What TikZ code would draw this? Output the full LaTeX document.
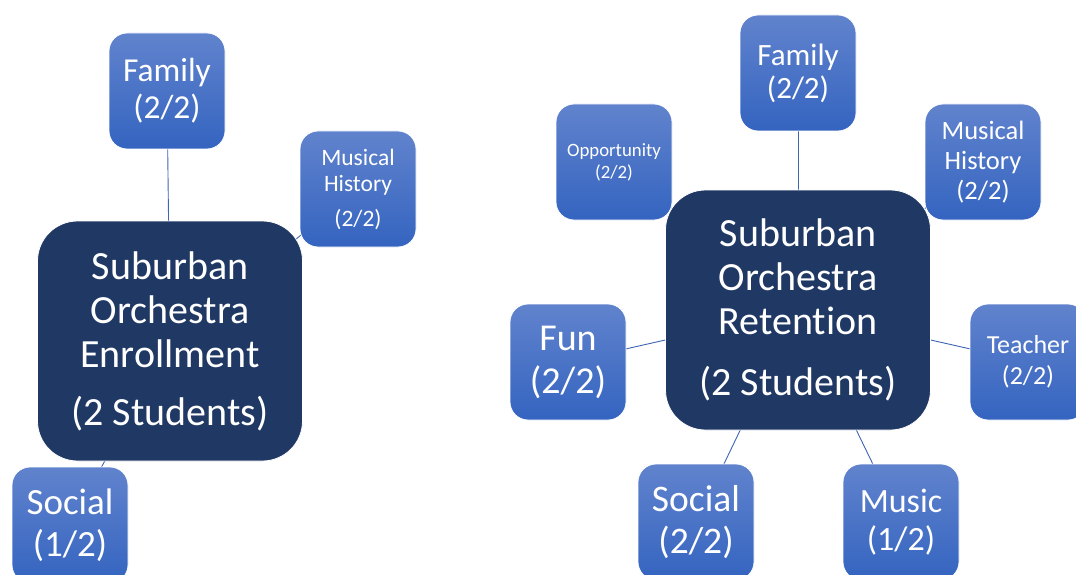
\documentclass[tikz,border=0pt]{standalone}
\usepackage{fontspec}
\setmainfont{Carlito}[Ligatures=NoCommon]
\usetikzlibrary{backgrounds}
\definecolor{hubblue}{HTML}{203864}
\definecolor{leaftop}{HTML}{6183CD}
\definecolor{leafbot}{HTML}{3464C0}
\definecolor{linkblue}{HTML}{3E64B4}
\newcommand{\fs}[2]{\fontsize{#1}{#2}\selectfont}

\begin{document}
\begin{tikzpicture}[x=1pt,y=-1pt,
    hub/.style={rounded corners=40pt,fill=hubblue,draw=white,line width=0.8pt,text=white,
      align=center,inner sep=0pt,minimum width=265pt,minimum height=240pt,font=\fs{40}{44}},
    leaf/.style={rounded corners=18pt,top color=leaftop,bottom color=leafbot,draw=white,line width=0.8pt,
      text=white,align=center,inner sep=0pt,minimum width=116pt,minimum height=116pt},
    link/.style={draw=linkblue,line width=0.9pt}]
  \useasboundingbox (0,0) rectangle (1076,575);
  % left: enrollment
  \node[hub](enr)at(170,341){Suburban\\Orchestra\\Enrollment\\[14pt](2 Students)};
  \node[leaf,font=\fs{33.5}{37}](efam)at(167,91){Family\\(2/2)};
  \node[leaf,font=\fs{23.5}{26}](ehist)at(358,189){Musical\\History\\[9pt](2/2)};
  \node[leaf,font=\fs{37}{42}](esoc)at(70,525){Social\\(1/2)};
  % right: retention
  \node[hub](ret)at(798,310){Suburban\\Orchestra\\Retention\\[17pt](2 Students)};
  \node[leaf,font=\fs{31}{33}](rfam)at(798,73){Family\\(2/2)};
  \node[leaf,font=\fs{18.8}{22}](ropp)at(614,162){Opportunity\\(2/2)};
  \node[leaf,font=\fs{26.5}{30}](rhist)at(983,162){Musical\\History\\(2/2)};
  \node[leaf,font=\fs{38}{43}](rfun)at(568,362){Fun\\(2/2)};
  \node[leaf,font=\fs{26}{31}](rteach)at(1028,362){Teacher\\(2/2)};
  \node[leaf,font=\fs{37.5}{42}](rsoc)at(696,522){Social\\(2/2)};
  \node[leaf,font=\fs{34}{38}](rmus)at(901,522){Music\\(1/2)};
  \begin{scope}[on background layer]
    \foreach \s in {efam,ehist,esoc} \draw[link](enr.center)--(\s.center);
    \foreach \s in {rfam,ropp,rhist,rfun,rteach,rsoc,rmus} \draw[link](ret.center)--(\s.center);
  \end{scope}
\end{tikzpicture}
\end{document}
